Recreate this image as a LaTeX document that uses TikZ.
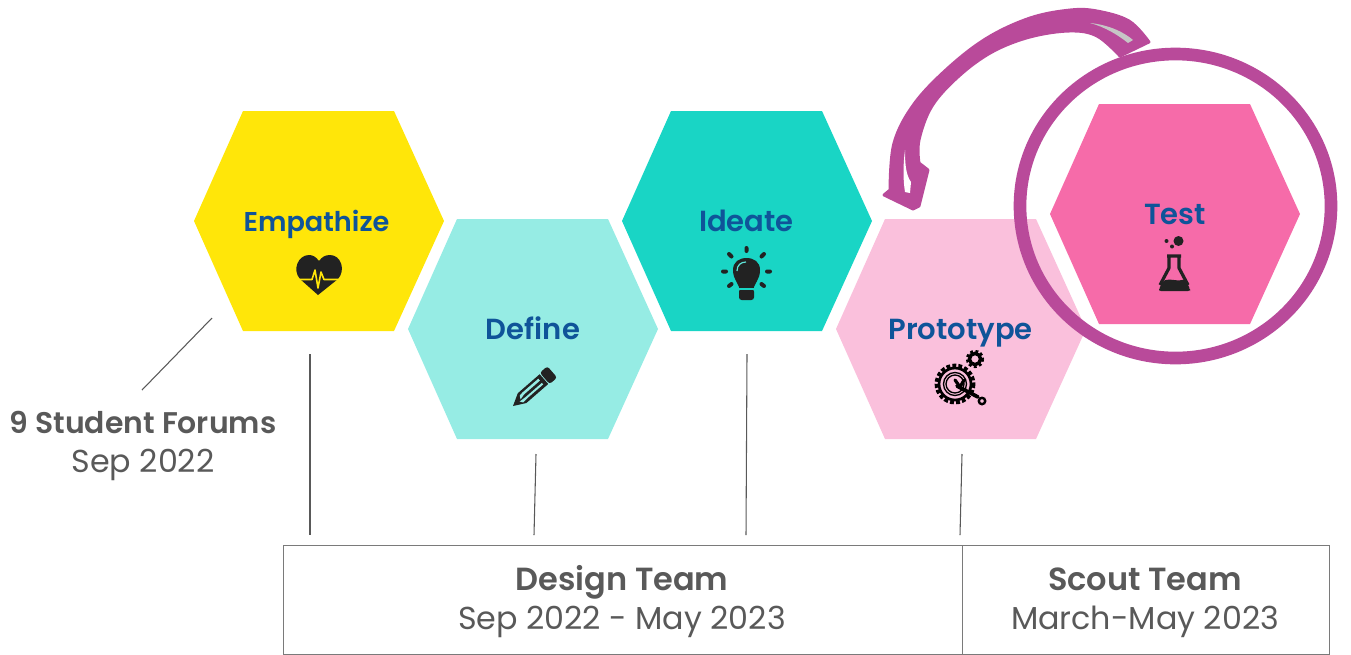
\documentclass[tikz,border=0pt]{standalone}
\usepackage{fontspec}
\setmainfont{Poppins}
\newfontfamily\semib{Poppins SemiBold}
\definecolor{cyel}{HTML}{FFE609}
\definecolor{cltl}{HTML}{96ECE4}
\definecolor{ctl}{HTML}{19D5C5}
\definecolor{clp}{HTML}{FAC0DC}
\definecolor{chp}{HTML}{F66BA9}
\definecolor{cmag}{HTML}{B94A9A}
\definecolor{cblue}{HTML}{0F5499}
\definecolor{cgrey}{HTML}{595959}
\definecolor{cicon}{HTML}{222222}
\tikzset{
  hexlabel/.style={font=\semib\fontsize{21.8}{24}\selectfont,text=cblue,inner sep=0pt,anchor=base},
  tick/.style={draw=cgrey,line width=0.8pt},
  teambox/.style={draw=cgrey!80,line width=0.6pt},
  bigt/.style={font=\semib\fontsize{24}{26}\selectfont,text=cgrey,inner sep=0pt,anchor=base},
  smallt/.style={font=\fontsize{23.8}{26}\selectfont,text=cgrey,inner sep=0pt,anchor=base},
}
\begin{document}
\begin{tikzpicture}[x=0.75pt,y=-0.75pt]
\useasboundingbox (0,0) rectangle (1351,654);
% hexagons
\fill[cyel] (194,221) -- (243,111) -- (394,111) -- (444,221) -- (394,331) -- (243,331) -- cycle;
\fill[cltl] (408,329) -- (457,219) -- (608,219) -- (658,329) -- (608,439) -- (457,439) -- cycle;
\fill[ctl] (622,221) -- (671,111) -- (822,111) -- (872,221) -- (822,331) -- (671,331) -- cycle;
\fill[clp] (836,329) -- (885,219) -- (1036,219) -- (1086,329) -- (1036,439) -- (885,439) -- cycle;
\fill[chp] (1050,214) -- (1099,104) -- (1250,104) -- (1300,214) -- (1250,324) -- (1099,324) -- cycle;
% circle and arrow
\draw[draw=cmag,line width=9.5pt] (1175.5,206) ellipse [x radius=155.5,y radius=152];
\filldraw[fill=cmag,draw=cmag,line width=2.2pt,line join=round]
  plot[smooth,tension=0.6] coordinates {(1149,42) (1129,21) (1097,11) (1070,10) (1030,18) (987,38) (948,68) (914,104) (894,143) (890,190)}
  -- (884,195) -- (913,209) -- (919,206) -- (928,170) -- (919,163)
  -- plot[smooth,tension=0.6] coordinates {(919,163) (919,140) (932,106) (959,76) (992,52) (1030,37) (1070,31) (1097,36) (1120,56)}
  -- cycle;
\fill[gray!45] (1090,23) .. controls (1110,25) and (1125,33) .. (1133,40) -- (1128,43) .. controls (1118,35) and (1105,27) .. (1090,23) -- cycle;
\fill[white] (905,150) .. controls (903,165) and (903,180) .. (905,192) -- (910,193) -- (911,182) .. controls (906,175) and (905,165) .. (905,150) -- cycle;
% labels
\node[hexlabel,font=\semib\fontsize{20.4}{24}\selectfont] (emp) at (316.5,231) {Empathize};
\node[hexlabel] (def) at (533,339.5) {Define};
\node[hexlabel] (ide) at (746.5,231) {Ideate};
\node[hexlabel] (pro) at (960.5,339.5) {Prototype};
\node[hexlabel] (tes) at (1175,224) {Test};
% heart
\fill[cicon] (318,295) -- (300,279) .. controls (292,270) and (298,255) .. (309,255) .. controls (313,255) and (316,257) .. (319,261) .. controls (322,257) and (325,255) .. (330,255) .. controls (341,255) and (346,270) .. (338,279) -- cycle;
\draw[cyel,line width=1.2pt,line join=round] (298,279.5) -- (312,279.5) -- (315,270) -- (318,288) -- (321,272) -- (324,279.5) -- (340,279.5);
% pencil
\begin{scope}[shift={(513,406)},rotate=41]
\fill[cicon] (0,0) -- (12,-6.5) -- (41,-6.5) -- (41,6.5) -- (12,6.5) -- cycle;
\fill[cltl] (12,-3.5) -- (16,-4) -- (37,-4) -- (37,-1.5) -- (16,-1.5) -- (10,0) -- cycle;
\fill[cltl] (8,1) -- (16,1.5) -- (37,1.5) -- (37,3.5) -- (16,3.5) -- (10,4) -- cycle;
\fill[cicon,rounded corners=2pt] (42,-7.5) -- (52,-7.5) -- (52,7.5) -- (42,7.5) -- cycle;
\end{scope}
% bulb
\fill[cicon] (740,291) .. controls (739,283) and (733,280) .. (733,270) .. controls (733,262) and (739,258) .. (746.5,258) .. controls (754,258) and (760,262) .. (760,270) .. controls (760,280) and (754,283) .. (753,291) -- cycle;
\fill[cicon,rounded corners=2pt] (739,289) rectangle (754,300);
\draw[ctl,line width=0.8pt] (739,289) -- (754,289);
\draw[ctl!70!white,line width=0.9pt] (737,271) .. controls (737,265) and (741,262) .. (746,262);
\draw[cicon,line width=3pt,line cap=round] (746.5,248) -- (746.5,251)
  (729,254) -- (731.5,256.5) (764,254) -- (761.5,256.5)
  (723,271.5) -- (726,271.5) (767,271.5) -- (770,271.5)
  (729,286) -- (731.5,284) (764,286) -- (761.5,284);
% gears
\draw[black,line width=3.6pt,dash pattern=on 2.8pt off 1.6pt] (955,384) circle (18);
\draw[black,line width=2pt] (955,384) circle (16);
\draw[black,line width=1pt] (955,384) circle (11.5);
\draw[black,line width=1pt] (955,384) circle (9);
\draw[black,line width=2.6pt] (975,359) circle (5.6);
\draw[black,line width=2.4pt,dash pattern=on 2pt off 1.8pt] (975,359) circle (7.5);
\draw[black,line width=2.8pt,line cap=round] (957,386) -- (978,397);
\draw[black,line width=2.4pt,line cap=round] (955,380) -- (960,387) (964,380) -- (960,387);
\draw[black,line width=1.8pt] (982,401) circle (3.2);
% flask
\draw[cicon,line width=2.4pt,line join=round] (1167,256) -- (1181,256) (1169,256) -- (1169,268) -- (1160,285) (1179,256) -- (1179,268) -- (1188,285);
\fill[cicon,rounded corners=1.5pt] (1163,281) .. controls (1170,278) and (1178,282) .. (1185,279) -- (1190,289) -- (1190,291) -- (1159,291) -- (1159,289) -- cycle;
\fill[cicon] (1178.5,241) circle (5) (1172,246.5) circle (2) (1166.5,241) circle (2);
% connectors
\coordinate (f1a) at (212,318); \coordinate (f1b) at (142,390);
\coordinate (e1) at (310,354); \coordinate (e2) at (310,535);
\coordinate (d1) at (536,454); \coordinate (d2) at (534,535);
\coordinate (i1) at (747,354); \coordinate (i2) at (746,535);
\coordinate (p1) at (962,454); \coordinate (p2) at (960,535);
\draw[tick] (f1a) -- (f1b);
\draw[tick] (e1) -- (e2);
\draw[tick] (d1) -- (d2);
\draw[tick] (i1) -- (i2);
\draw[tick] (p1) -- (p2);
% forum label
\node[font=\semib\fontsize{22.4}{24}\selectfont,text=cgrey,inner sep=0pt,anchor=base] (forum) at (143,433.5) {9 Student Forums};
\node[smallt] (forumd) at (143,472) {Sep 2022};
% team boxes
\node[teambox,minimum width=679*0.75pt,minimum height=109*0.75pt,anchor=north west,inner sep=0pt] (design) at (283,545) {};
\node[teambox,minimum width=367*0.75pt,minimum height=109*0.75pt,anchor=north west,inner sep=0pt] (scout) at (962,545) {};
\node[bigt] (dt) at (622,590) {Design Team};
\node[smallt] (dd) at (622,629) {Sep 2022 - May 2023};
\node[bigt] (st) at (1145,590) {Scout Team};
\node[smallt] (sd) at (1145,629) {March-May 2023};
\end{tikzpicture}
\end{document}
